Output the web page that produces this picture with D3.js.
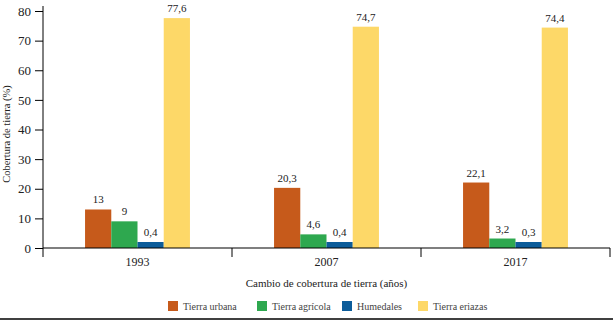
<!DOCTYPE html>
<html>
<head>
<meta charset="utf-8">
<script src="https://cdn.jsdelivr.net/npm/d3@7"></script>
<style>
  body { margin: 0; background: #fff; }
  svg text { font-family: "Liberation Serif", "Times New Roman", "DejaVu Serif", serif !important; fill: #222; }
</style>
</head>
<body>
<div id="chart"></div>
<script>
// years on the x axis
var years = ["1993", "2007", "2017"];

// land cover types (series)
var series = ["Tierra urbana", "Tierra agrícola", "Humedales", "Tierra eriazas"];

// values per series, one per year
var urbana = [13, 20.3, 22.1];
var agricola = [9, 4.6, 3.2];
var humedales = [0.4, 0.4, 0.3];
var eriazas = [77.6, 74.7, 74.4];

// y axis tick labels
var yTicks = [0, 10, 20, 30, 40, 50, 60, 70, 80];

var colors = ["#c65a1b", "#2ea84f", "#0c5c9a", "#fdd868"];

// build the rows for the grouped bars
var values = [urbana, agricola, humedales, eriazas];
var rows = years.map(function(y, i) {
    return {year: y, vals: series.map(function(s, j) { return {key: s, value: values[j][i]}; })};
});

var width = 613, height = 322;
var margin = {top: 11, right: 3, bottom: 74, left: 43};

var svg = d3.select("#chart").append("svg")
    .attr("width", width)
    .attr("height", height)
    .attr("font-family", "Liberation Serif, serif");

// scales
var x0 = d3.scaleBand()
    .domain(years)
    .range([margin.left, width - margin.right])
    .paddingInner(0)
    .paddingOuter(0);

var x1 = d3.scaleBand()
    .domain(series)
    .range([0, x0.bandwidth() * 0.555])
    .padding(0);

var y = d3.scaleLinear()
    .domain([0, 80])
    .range([height - margin.bottom, margin.top]);

var color = d3.scaleOrdinal().domain(series).range(colors);

var groupOffset = (x0.bandwidth() - x1.range()[1]) / 2;

// bars
var groups = svg.selectAll(".grp")
    .data(rows)
    .enter().append("g")
    .attr("transform", function(d) { return "translate(" + (x0(d.year) + groupOffset) + ",0)"; });

// tiny values get a small minimum height so they stay visible, as in the source
function barTop(v) { return Math.min(y(v), y(0) - 6); }

groups.selectAll("rect")
    .data(function(d) { return d.vals; })
    .enter().append("rect")
    .attr("x", function(d) { return x1(d.key); })
    .attr("width", x1.bandwidth())
    .attr("y", function(d) { return barTop(d.value); })
    .attr("height", function(d) { return y(0) - barTop(d.value); })
    .attr("fill", function(d) { return color(d.key); });

// value labels
groups.selectAll(".lbl")
    .data(function(d) { return d.vals; })
    .enter().append("text")
    .attr("x", function(d) { return x1(d.key) + x1.bandwidth() / 2; })
    .attr("y", function(d) { return barTop(d.value) - 6; })
    .attr("text-anchor", "middle")
    .style("font-size", "11px")
    .text(function(d) { return String(d.value).replace(".", ","); });

// y axis
var yAxis = svg.append("g")
    .attr("transform", "translate(" + margin.left + ",0)")
    .call(d3.axisLeft(y).tickValues(yTicks).tickSize(8).tickPadding(4).tickSizeOuter(0));
yAxis.attr("font-family", null);
yAxis.select(".domain").attr("d", "M0,6V" + (y(0) + 9)).attr("stroke", "#000");
yAxis.selectAll(".tick line").attr("stroke", "#000");
yAxis.selectAll(".tick text").style("font-size", "13px");

// x axis with ticks on the band boundaries
var xAxis = svg.append("g")
    .attr("transform", "translate(0," + y(0) + ")");
xAxis.append("line")
    .attr("x1", margin.left).attr("x2", width - margin.right)
    .attr("stroke", "#000").attr("stroke-width", 1.2);
xAxis.selectAll(".xt")
    .data(years)
    .enter().append("line")
    .attr("x1", function(d) { return x0(d) + x0.bandwidth(); })
    .attr("x2", function(d) { return x0(d) + x0.bandwidth(); })
    .attr("y1", 0).attr("y2", 9)
    .attr("stroke", "#000");
xAxis.selectAll(".xl")
    .data(years)
    .enter().append("text")
    .attr("x", function(d) { return x0(d) + x0.bandwidth() / 2; })
    .attr("y", 18)
    .attr("text-anchor", "middle")
    .style("font-size", "12px")
    .text(function(d) { return d; });

// axis titles
svg.append("text")
    .attr("x", (margin.left + width - margin.right) / 2)
    .attr("y", 287)
    .attr("text-anchor", "middle")
    .style("font-size", "11px")
    .text("Cambio de cobertura de tierra (años)");

svg.append("text")
    .attr("transform", "translate(10,134) rotate(-90)")
    .attr("text-anchor", "middle")
    .style("font-size", "10.5px")
    .text("Cobertura de tierra (%)");

// legend
var legendX = [168, 257, 342, 418];
var legend = svg.selectAll(".leg")
    .data(series)
    .enter().append("g")
    .attr("transform", function(d, i) { return "translate(" + legendX[i] + ",301)"; });
legend.append("rect")
    .attr("width", 10).attr("height", 10)
    .attr("fill", function(d) { return color(d); });
legend.append("text")
    .attr("x", 15).attr("y", 8.5)
    .style("font-size", "10px")
    .style("fill", "#444")
    .text(function(d) { return d; });

// bottom rule
svg.append("line")
    .attr("x1", 0).attr("x2", width)
    .attr("y1", 319).attr("y2", 319)
    .attr("stroke", "#000").attr("stroke-width", 1.5);
</script>
</body>
</html>
